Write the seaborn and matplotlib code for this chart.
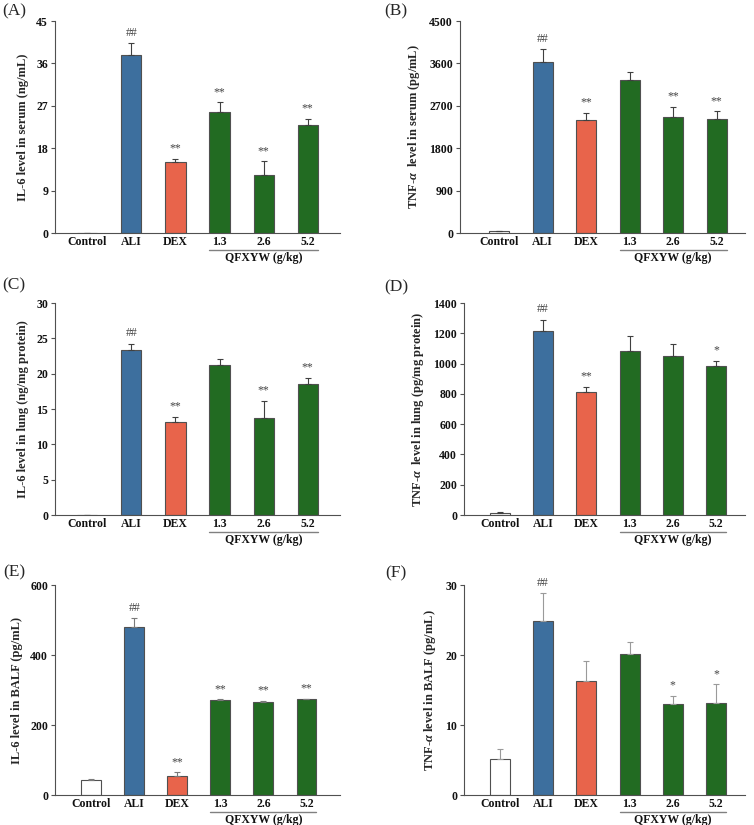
import matplotlib
matplotlib.use('Agg')
import matplotlib.pyplot as plt
import seaborn as sns
import numpy as np

# ── Data ──────────────────────────────────────────────────────────────────────
groups = ['Control', 'ALI', 'DEX', '1.3', '2.6', '5.2']
bar_colors = ['#ffffff', '#3d6f9e', '#e8644b', '#226b22', '#226b22', '#226b22']

il6_serum     = [0.05, 37.8, 15.0, 25.7, 12.3, 22.9]
il6_serum_err = [0.0, 2.45, 0.75, 2.05, 2.9, 1.4]
il6_serum_sig = ['', '##', '**', '**', '**', '**']

tnf_serum     = [35, 3624, 2402, 3242, 2458, 2416]
tnf_serum_err = [8, 276, 155, 170, 226, 169]
tnf_serum_sig = ['', '##', '**', '', '**', '**']

il6_lung     = [0.05, 23.3, 13.2, 21.2, 13.75, 18.6]
il6_lung_err = [0.0, 0.95, 0.7, 0.85, 2.45, 0.85]
il6_lung_sig = ['', '##', '**', '', '**', '**']

tnf_lung     = [15, 1213, 809, 1086, 1053, 985]
tnf_lung_err = [2, 77, 37, 96, 77, 35]
tnf_lung_sig = ['', '##', '**', '', '', '*']

il6_balf     = [43, 479, 53, 272, 266, 273]
il6_balf_err = [2, 26, 12, 1, 4, 2]
il6_balf_sig = ['', '##', '**', '**', '**', '**']

tnf_balf     = [5.1, 24.9, 16.3, 20.2, 12.95, 13.1]
tnf_balf_err = [1.5, 4.0, 2.9, 1.6, 1.25, 2.7]
tnf_balf_sig = ['', '##', '', '', '*', '*']

ylabels = [
    'IL-6 level in serum (ng/mL)',
    r'TNF-$\alpha$  level in serum (pg/mL)',
    'IL-6 level in lung (ng/mg protein)',
    r'TNF-$\alpha$  level in lung (pg/mg protein)',
    'IL-6 level in BALF (pg/mL)',
    r'TNF-$\alpha$ level in BALF (pg/mL)',
]
yticks = [
    [0, 9, 18, 27, 36, 45],
    [0, 900, 1800, 2700, 3600, 4500],
    [0, 5, 10, 15, 20, 25, 30],
    [0, 200, 400, 600, 800, 1000, 1200, 1400],
    [0, 200, 400, 600],
    [0, 10, 20, 30],
]
panel_tags = ['(A)', '(B)', '(C)', '(D)', '(E)', '(F)']
values = [il6_serum, tnf_serum, il6_lung, tnf_lung, il6_balf, tnf_balf]
errors = [il6_serum_err, tnf_serum_err, il6_lung_err, tnf_lung_err, il6_balf_err, tnf_balf_err]
signif = [il6_serum_sig, tnf_serum_sig, il6_lung_sig, tnf_lung_sig, il6_balf_sig, tnf_balf_sig]

# ── Style ─────────────────────────────────────────────────────────────────────
sns.set_style('ticks')
plt.rcParams.update({
    'font.family': ['Liberation Serif', 'DejaVu Serif'],
    'font.weight': 'bold',
    'mathtext.fontset': 'custom',
    'mathtext.rm': 'Liberation Serif:bold',
    'mathtext.it': 'Liberation Serif:italic:bold',
    'mathtext.bf': 'Liberation Serif:bold',
    'axes.edgecolor': '#505050',
    'xtick.color': '#505050', 'ytick.color': '#505050',
    'xtick.labelcolor': '#111111', 'ytick.labelcolor': '#111111',
})

W, H = 754, 825
fig = plt.figure(figsize=(W / 100, H / 100), dpi=100)

# pixel boxes: left, right, top, bottom
boxes = [(55, 340, 21, 233), (460, 745, 21, 233),
         (55, 340, 303, 515), (464, 745, 303, 515),
         (55, 340, 585, 795), (464, 745, 585, 795)]
xlims = [(-0.73, 5.73), (-0.9, 5.65), (-0.73, 5.73),
         (-0.83, 5.67), (-0.84, 5.78), (-0.83, 5.67)]
tag_pos = [(14, 11), (396, 11), (14, 285), (396, 287), (14, 572), (396, 573)]
err_cols = ['#404040', '#404040', '#404040', '#404040', '#7a7a7a', '#9a9a9a']

for i in range(6):
    l, r, t, b = boxes[i]
    ax = fig.add_axes([l / W, 1 - b / H, (r - l) / W, (b - t) / H])
    vals, errs = values[i], errors[i]
    sns.barplot(x=groups, y=vals, hue=groups, palette=bar_colors, order=groups,
                legend=False, width=0.46, edgecolor='#505050', linewidth=0.8,
                saturation=1, errorbar=None, ax=ax)
    xs = np.arange(len(groups))
    ax.errorbar(xs, vals, yerr=[np.zeros(len(errs)), errs], fmt='none',
                ecolor=err_cols[i], elinewidth=0.8, capsize=2.5, capthick=0.8)
    for x, v, e, s in zip(xs, vals, errs, signif[i]):
        if s:
            ax.annotate(s, (x, v + e), xytext=(0, 3), textcoords='offset points',
                        ha='center', va='bottom', fontsize=8.5, color='#444444',
                        fontweight='normal')
    top = yticks[i][-1]
    ax.set_ylim(0, top)
    ax.set_yticks(yticks[i])
    ax.set_xlim(*xlims[i])
    ax.set_xlabel('')
    ax.set_ylabel(ylabels[i], fontsize=9, fontweight='bold', labelpad=5)
    ax.tick_params(axis='x', length=0, labelsize=8.5, pad=2)
    ax.tick_params(axis='y', length=3, width=0.8, labelsize=8.5, pad=2)
    for lab in ax.get_xticklabels() + ax.get_yticklabels():
        lab.set_fontweight('bold')
    sns.despine(ax=ax)
    for sp in ['left', 'bottom']:
        ax.spines[sp].set_linewidth(0.8)

    # QFXYW dose bracket
    h = b - t
    tr = ax.get_xaxis_transform()
    ax.plot([3 - 0.23, 5 + 0.23], [-16.5 / h, -16.5 / h], color='#808080', lw=1.0,
            transform=tr, clip_on=False)
    ax.text(4, -25.5 / h, 'QFXYW (g/kg)', transform=tr, ha='center', va='center',
            fontsize=8.5, fontweight='bold', color='#111111')

    fig.text(tag_pos[i][0] / W, 1 - tag_pos[i][1] / H, panel_tags[i],
             ha='center', va='center', fontsize=12.5, fontweight='normal')

plt.savefig('out.png', dpi=100)
plt.close()
